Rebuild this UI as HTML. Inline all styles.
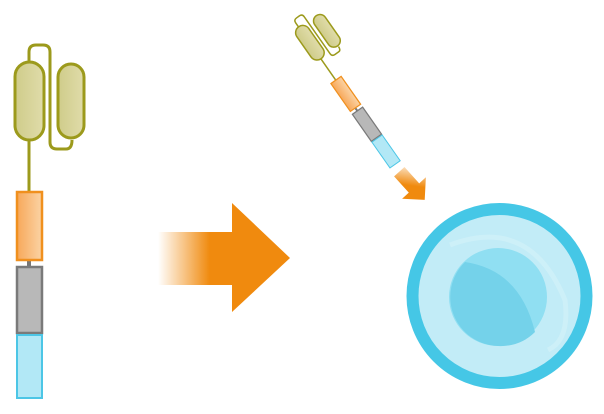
<!DOCTYPE html>
<html><head><style>html,body{margin:0;padding:0;background:#fff;}svg{display:block}</style></head>
<body>
<svg width="604" height="414" viewBox="0 0 604 414" xmlns="http://www.w3.org/2000/svg">
<defs>
<linearGradient id="ar" x1="158" y1="0" x2="232" y2="0" gradientUnits="userSpaceOnUse">
<stop offset="0" stop-color="#f08a0e" stop-opacity="0"/><stop offset="0.7" stop-color="#f08a0e"/></linearGradient>
<linearGradient id="sa" x1="0" y1="0" x2="1" y2="1">
<stop offset="0" stop-color="#f08a0e" stop-opacity="0"/><stop offset="0.5" stop-color="#f08a0e"/></linearGradient>
<linearGradient id="ol" x1="0" y1="0" x2="1" y2="0"><stop offset="0" stop-color="#cfcc8a"/><stop offset="1" stop-color="#e0dcaa"/></linearGradient>
<linearGradient id="or" x1="0" y1="0" x2="1" y2="0"><stop offset="0" stop-color="#f7a85a"/><stop offset="1" stop-color="#fbd3a4"/></linearGradient>
<g id="mol">
<path d="M29 62 L29 52 Q29 45 36 45 L43 45 Q50 45 50 52 L50 142 Q50 149 57 149 L66 149 Q72 149 72 140" fill="none" stroke="#9c9a1c" stroke-width="3"/>
<rect x="15" y="62" width="29" height="78" rx="14.5" fill="url(#ol)" stroke="#9c9a1c" stroke-width="3"/>
<rect x="58" y="64" width="26" height="74" rx="13" fill="url(#ol)" stroke="#9c9a1c" stroke-width="3"/>
<line x1="29" y1="140" x2="29" y2="192" stroke="#9c9a1c" stroke-width="3"/>
<line x1="29" y1="260" x2="29" y2="267" stroke="#777" stroke-width="4"/>
<rect x="17" y="192" width="25" height="68" fill="url(#or)" stroke="#f0901e" stroke-width="2.5"/>
<rect x="17" y="267" width="25" height="66" fill="#b8b8b8" stroke="#7a7a7a" stroke-width="2.5"/>
<rect x="17" y="335" width="25" height="63" fill="#b2e8f6" stroke="#4cc6e6" stroke-width="2"/>
</g>
</defs>
<use href="#mol"/>
<g transform="translate(336,80) rotate(-35) scale(0.5) translate(-29.5,-192)"><use href="#mol"/></g>
<path d="M158 232 L232 232 L232 203 L290 258 L232 312 L232 285 L158 285 Z" fill="url(#ar)"/>
<g transform="translate(414,188) rotate(48)">
<path d="M-22 -7 L0 -7 L0 -16 L16 0 L0 16 L0 7 L-22 7 Z" fill="url(#sa)"/>
</g>
<circle cx="499.5" cy="296" r="87" fill="#c2ecf7" stroke="#45c7e6" stroke-width="12"/>
<path d="M450 245 Q530 215 565 300 Q570 340 548 350" fill="none" stroke="#d7f3fa" stroke-width="5" opacity="0.5"/>
<circle cx="498" cy="297" r="49" fill="#90dff2"/>
<path d="M465 262 Q520 270 535 332 Q520 347 498 346 A49 49 0 0 1 465 262 Z" fill="#74d2ea"/>
</svg>
</body></html>
